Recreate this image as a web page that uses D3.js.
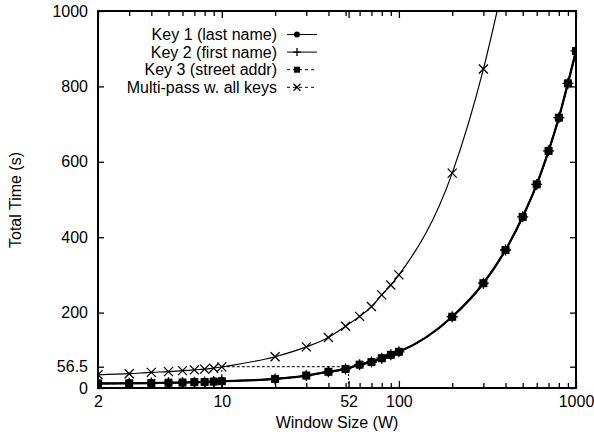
<!DOCTYPE html>
<html>
<head>
<meta charset="utf-8">
<script src="https://cdnjs.cloudflare.com/ajax/libs/d3/7.8.5/d3.min.js"></script>
<style>
  body { margin: 0; background: #fff; }
  text { font-family: "Liberation Sans", Arial, sans-serif; fill: #000; }
</style>
</head>
<body>
<div id="chart"></div>
<script>
// window sizes (x) and total times (y)
var keyWindows = [2, 3, 4, 5, 6, 7, 8, 9, 10, 20, 30, 40, 50, 60, 70, 80, 90, 100,
                  200, 300, 400, 500, 600, 700, 800, 900, 1000];
var key1Times = [12, 12.5, 13, 14, 14.5, 15.5, 16, 17, 18, 24, 33, 43, 50.5, 62, 69, 79, 88, 96,
                 189, 278, 366, 454, 540, 629, 717, 808, 894];
var key2Times = [12, 12.5, 13, 14, 14.5, 15.5, 16, 17, 18, 24, 33, 43, 50.5, 62, 69, 79, 88, 96,
                 189, 278, 366, 454, 540, 629, 717, 808, 894];
var key3Times = [12, 12.5, 13, 14, 14.5, 15.5, 16, 17, 18, 24, 33, 43, 50.5, 62, 69, 79, 88, 96,
                 189, 278, 366, 454, 540, 629, 717, 808, 894];

var multiWindows = [2, 3, 4, 5, 6, 7, 8, 9, 10, 20, 30, 40, 50, 60, 70, 80, 90, 100, 200, 300, 400];
var multiTimes = [35, 38, 41.5, 43.5, 46, 48, 50, 52.5, 56, 83, 109, 134, 164, 190, 216, 247, 273, 300, 570, 846, 1100];

var xTickValues = [2, 10, 52, 100, 1000];
var xMinorTicks = [3, 4, 5, 6, 7, 8, 9, 20, 30, 40, 50, 60, 70, 80, 90, 200, 300, 400, 500, 600, 700, 800, 900];
var yTickValues = [0, 56.5, 200, 400, 600, 800, 1000];
var refWindows = [10, 52];   // marked window sizes
var refTime = 56.5;          // same total time

var legendLabels = ["Key 1 (last name)", "Key 2 (first name)", "Key 3 (street addr)", "Multi-pass w. all keys"];

var W = 594, H = 437;
var margin = {top: 11, right: 18, bottom: 49, left: 98},
    width = W - margin.left - margin.right,
    height = H - margin.top - margin.bottom;

var svg = d3.select("#chart")
  .append("svg")
    .attr("width", W)
    .attr("height", H);

var g = svg.append("g")
    .attr("transform", "translate(" + margin.left + "," + margin.top + ")");

var x = d3.scaleLog().domain([2, 1000]).range([0, width]);
var y = d3.scaleLinear().domain([0, 1000]).range([height, 0]);

g.append("clipPath").attr("id", "clip")
  .append("rect").attr("width", width).attr("height", height);

// ticks, pointing inward on all four sides
function tickAxis(axis, vals, size, transform) {
  var a = g.append("g")
    .attr("transform", transform)
    .call(axis.tickValues(vals).tickSize(size).tickFormat(""));
  a.select(".domain").remove();
  a.selectAll("line").attr("stroke", "#000").attr("stroke-width", 1.3);
  return a;
}
tickAxis(d3.axisTop(x), xTickValues, 7, "translate(0," + height + ")");
tickAxis(d3.axisTop(x), xMinorTicks, 5, "translate(0," + height + ")");
tickAxis(d3.axisBottom(x), xTickValues, 7, "translate(0,0)");
tickAxis(d3.axisBottom(x), xMinorTicks, 5, "translate(0,0)");
tickAxis(d3.axisRight(y), yTickValues, 6, "translate(0,0)");
tickAxis(d3.axisLeft(y), yTickValues, 6, "translate(" + width + ",0)");

// tick labels
var xl = g.append("g")
  .attr("transform", "translate(0," + height + ")")
  .call(d3.axisBottom(x).tickValues(xTickValues).tickSize(0).tickPadding(8).tickFormat(d3.format("d")));
xl.select(".domain").remove();
xl.selectAll("text").style("font-size", "16px").attr("dy", "0.71em");

var yl = g.append("g")
  .call(d3.axisLeft(y).tickValues(yTickValues).tickSize(0).tickPadding(10).tickFormat(d => d));
yl.select(".domain").remove();
yl.selectAll("text").style("font-size", "16px");

// reference lines
var plot = g.append("g").attr("clip-path", "url(#clip)");
plot.append("line")
  .attr("x1", x(refWindows[0])).attr("x2", x(refWindows[1]))
  .attr("y1", y(refTime)).attr("y2", y(refTime))
  .attr("stroke", "#000").attr("stroke-width", 1).attr("stroke-dasharray", "3,2");
refWindows.forEach(function (w) {
  plot.append("line")
    .attr("x1", x(w)).attr("x2", x(w))
    .attr("y1", y(0)).attr("y2", y(refTime))
    .attr("stroke", "#000").attr("stroke-width", 1).attr("stroke-dasharray", "2,2");
});

var line = d3.line().x(d => x(d[0])).y(d => y(d[1])).curve(d3.curveMonotoneX);
var key1 = d3.zip(keyWindows, key1Times),
    key2 = d3.zip(keyWindows, key2Times),
    key3 = d3.zip(keyWindows, key3Times),
    multi = d3.zip(multiWindows, multiTimes);

plot.append("path").datum(key3).attr("d", line)
  .attr("fill", "none").attr("stroke", "#000").attr("stroke-width", 1.5).attr("stroke-dasharray", "4,3");
plot.append("path").datum(key2).attr("d", line)
  .attr("fill", "none").attr("stroke", "#000").attr("stroke-width", 1.5);
plot.append("path").datum(key1).attr("d", line)
  .attr("fill", "none").attr("stroke", "#000").attr("stroke-width", 2.3);
plot.append("path").datum(multi).attr("d", line)
  .attr("fill", "none").attr("stroke", "#000").attr("stroke-width", 1.2);

// markers
function square(sel, s) {
  sel.append("rect").attr("x", -s).attr("y", -s).attr("width", 2 * s).attr("height", 2 * s)
    .attr("fill", "#000");
}
function plus(sel, s) {
  sel.append("path").attr("d", "M" + (-s) + ",0H" + s + "M0," + (-s) + "V" + s)
    .attr("stroke", "#000").attr("stroke-width", 1.3);
}
function cross(sel, s) {
  sel.append("path").attr("d", "M" + (-s) + "," + (-s) + "L" + s + "," + s + "M" + (-s) + "," + s + "L" + s + "," + (-s))
    .attr("stroke", "#000").attr("stroke-width", 1.3);
}
function circle(sel, r) {
  sel.append("circle").attr("r", r).attr("fill", "#000");
}

var marks = g.append("g").attr("clip-path", "url(#clip)");
function drawMarks(data, fn, s) {
  marks.selectAll(null).data(data).enter().append("g")
    .attr("transform", d => "translate(" + x(d[0]) + "," + y(d[1]) + ")")
    .each(function () { fn(d3.select(this), s); });
}
drawMarks(key3, square, 4);
drawMarks(key1, circle, 4);
drawMarks(key2, plus, 5.5);
drawMarks(multi, cross, 4.5);

// frame
g.append("rect").attr("width", width).attr("height", height)
  .attr("fill", "none").attr("stroke", "#000").attr("stroke-width", 2);

// legend
var legend = svg.append("g");
var legendMarks = [circle, plus, square, cross];
var legendSizes = [3, 4, 3, 3.5];
var legendDash = [null, null, "3,3", "3,3"];
legendLabels.forEach(function (lab, i) {
  var ly = 34.5 + i * 17.6;
  legend.append("text")
    .attr("x", 277).attr("y", ly).attr("dy", "0.35em")
    .attr("text-anchor", "end").style("font-size", "16px")
    .text(lab);
  legend.append("line")
    .attr("x1", 287).attr("x2", 317).attr("y1", ly).attr("y2", ly)
    .attr("stroke", "#000").attr("stroke-width", 1)
    .attr("stroke-dasharray", legendDash[i]);
  var mk = legend.append("g").attr("transform", "translate(297," + ly + ")");
  legendMarks[i](mk, legendSizes[i]);
});

// axis titles
svg.append("text")
  .attr("x", margin.left + width / 2).attr("y", 428)
  .attr("text-anchor", "middle").style("font-size", "16px")
  .text("Window Size (W)");

svg.append("text")
  .attr("transform", "rotate(-90)")
  .attr("x", -200).attr("y", 21)
  .attr("text-anchor", "middle").style("font-size", "16px")
  .text("Total Time (s)");
</script>
</body>
</html>
